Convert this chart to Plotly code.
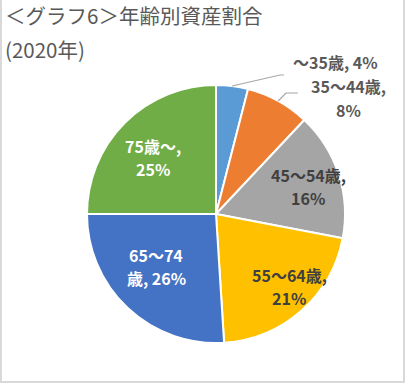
import math
import plotly.graph_objects as go

# ---- data ----
categories = ["～35歳", "35～44歳", "45～54歳", "55～64歳", "65～74歳", "75歳～"]
shares = [4, 8, 16, 21, 26, 25]
label_lines = [["～35歳, 4%"], ["35～44歳,", "8%"], ["45～54歳,", "16%"],
               ["55～64歳,", "21%"], ["65～74", "歳, 26%"], ["75歳～,", "25%"]]
title_lines = ["＜グラフ6＞年齢別資産割合", "(2020年)"]

# ---- style ----
W, H = 405, 383
colors = ["#5B9BD5", "#ED7D31", "#A5A5A5", "#FFC000", "#4472C4", "#70AD47"]
label_colors = ["#595959", "#595959", "#404040", "#404040", "#FFFFFF", "#FFFFFF"]
CX, CY, R = 216, 214, 129  # pie centre / radius in pixels (top-left origin)
# label placement (pixel positions, style only)
label_xy = [(335, 62), (348, 98), (308, 186), (289, 286), (156, 266), (153, 157)]
LINE_GAP = 23

def px(x):
    return x / W

def py(y):
    return 1 - y / H

fig = go.Figure()
fig.add_trace(go.Pie(
    labels=categories,
    values=shares,
    sort=False,
    direction="clockwise",
    rotation=0,
    marker=dict(colors=colors, line=dict(color="#FFFFFF", width=2)),
    textinfo="none",
    hoverinfo="label+percent",
    showlegend=False,
    domain=dict(x=[px(CX - R), px(CX + R)], y=[py(CY + R), py(CY - R)]),
))

annotations = []
for lines, (lx, ly), col in zip(label_lines, label_xy, label_colors):
    n = len(lines)
    for k, txt in enumerate(lines):
        yy = ly + (k - (n - 1) / 2) * LINE_GAP
        annotations.append(dict(
            x=px(lx), y=py(yy), xref="paper", yref="paper",
            text="<b>" + txt + "</b>", showarrow=False,
            xanchor="center", yanchor="middle", align="center",
            font=dict(family="Noto Sans CJK JP", size=16, color=col),
        ))
for k, txt in enumerate(title_lines):
    annotations.append(dict(
        x=px(3), y=py(15 + k * 34), xref="paper", yref="paper",
        text=txt, showarrow=False, xanchor="left", yanchor="middle",
        align="left",
        font=dict(family="Noto Sans CJK JP", size=20.5, color="#595959"),
    ))

# leader lines for the two small slices, starting at their mid-angle on the rim
total = sum(shares)
cum = 0
mids = []
for v in shares:
    mids.append((cum + v / 2) / total * 2 * math.pi)
    cum += v

shapes = []
leader_paths = [
    [(280, 75), (284, 75)],
    [(286, 93), (298, 93)],
]
for i, pts in enumerate(leader_paths):
    a = mids[i]
    sx, sy = CX + R * math.sin(a), CY - R * math.cos(a)
    path = "M {} {}".format(px(sx), py(sy))
    for (x, y) in pts:
        path += " L {} {}".format(px(x), py(y))
    shapes.append(dict(type="path", xref="paper", yref="paper", path=path,
                       line=dict(color="#A6A6A6", width=1.2)))

# chart frame (light grey edges)
frame = "#D9D9D9"
shapes += [
    dict(type="line", xref="paper", yref="paper", x0=px(1), x1=px(1), y0=0, y1=1,
         line=dict(color=frame, width=2)),
    dict(type="line", xref="paper", yref="paper", x0=px(404), x1=px(404), y0=0, y1=1,
         line=dict(color=frame, width=2)),
    dict(type="line", xref="paper", yref="paper", x0=0, x1=1, y0=py(382), y1=py(382),
         line=dict(color=frame, width=2)),
]

fig.update_layout(
    width=W, height=H,
    margin=dict(l=0, r=0, t=0, b=0),
    paper_bgcolor="#FFFFFF",
    plot_bgcolor="#FFFFFF",
    annotations=annotations,
    shapes=shapes,
)

fig.write_html(
    "out.html",
    config={"displayModeBar": False},
    post_script="document.body.style.margin='0';document.body.style.overflow='hidden';",
)
